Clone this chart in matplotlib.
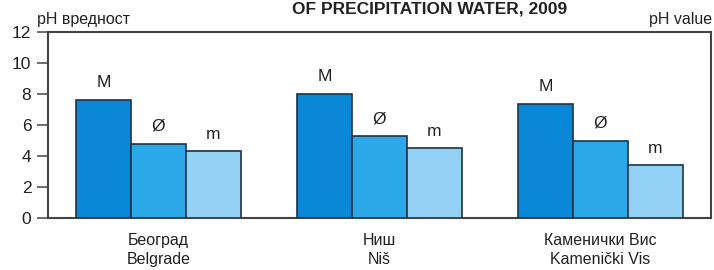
import matplotlib
matplotlib.use("Agg")
import matplotlib.pyplot as plt
import numpy as np

plt.rcParams['font.family'] = ['Liberation Sans', 'DejaVu Sans']

categories_sr = ["Београд", "Ниш", "Каменички Вис"]
categories_en = ["Belgrade", "Niš", "Kamenički Vis"]
series_labels = ["M", "Ø", "m"]
max_vals = [7.6, 8.0, 7.35]
mean_vals = [4.8, 5.3, 5.0]
min_vals = [4.3, 4.5, 3.4]
yticks = [0, 2, 4, 6, 8, 10, 12]

colors = ["#0a87d6", "#2ba8e8", "#93d1f5"]
edge = "#1d3446"

W, H = 714, 270
fig = plt.figure(figsize=(W / 100, H / 100), dpi=100)
ax = fig.add_axes([48 / W, (H - 218) / H, 663 / W, 186 / H])

x = np.arange(len(categories_sr))
bw = 0.248
for i, (vals, lab, c) in enumerate(zip([max_vals, mean_vals, min_vals], series_labels, colors)):
    pos = x + (i - 1) * bw
    ax.bar(pos, vals, width=bw, color=c, edgecolor=edge, linewidth=1.2, zorder=3)
    for p, v in zip(pos, vals):
        ax.annotate(lab, (p, v), xytext=(0, 7), textcoords="offset points",
                    ha="center", va="bottom", fontsize=12.5, color="#222222")

ax.set_xlim(-0.5, 2.5)
ax.set_ylim(0, 12)
ax.set_yticks(yticks)
ax.set_yticklabels([str(t) for t in yticks], fontsize=12.5, color="#222222")
ax.tick_params(axis="y", direction="out", length=8, width=1.2, color="#555555", pad=4)
ax.set_xticks(x)
ax.set_xticklabels([f"{a}\n{b}" for a, b in zip(categories_sr, categories_en)],
                   fontsize=11.5, color="#222222", linespacing=1.3)
ax.tick_params(axis="x", length=0, pad=11)
for s in ax.spines.values():
    s.set_color("#444444")
    s.set_linewidth(1.5)

fig.text(37 / W, 1 - 24 / H, "pH вредност", fontsize=11.5, ha="left", va="baseline", color="#222222")
fig.text(712 / W, 1 - 24 / H, "pH value", fontsize=11.5, ha="right", va="baseline", color="#222222")
fig.text(430 / W, 1 - 14 / H, "OF PRECIPITATION WATER, 2009", fontsize=12.5, fontweight="bold",
         ha="center", va="baseline", color="#222222")

fig.savefig("out.png", dpi=100)
